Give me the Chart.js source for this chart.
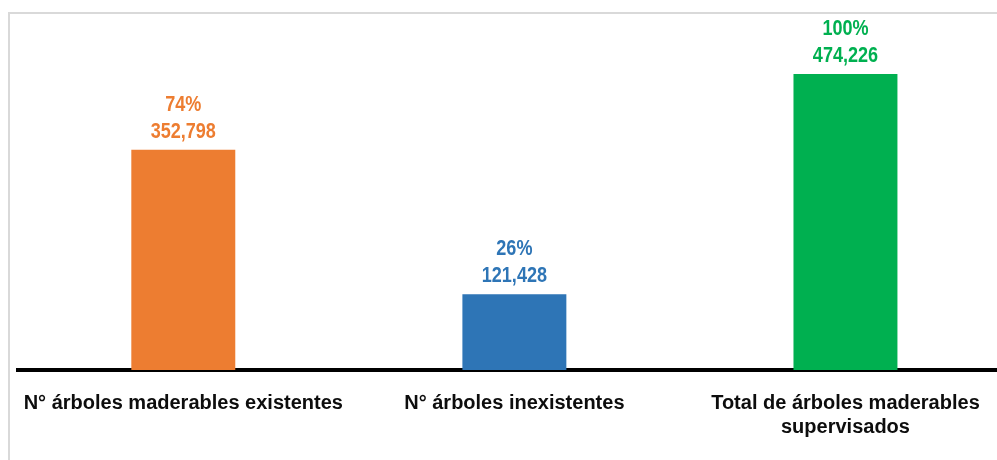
<!DOCTYPE html>
<html>
<head>
<meta charset="utf-8">
<script src="https://cdn.jsdelivr.net/npm/chart.js@4.4.0/dist/chart.umd.min.js"></script>
<style>
  html, body { margin: 0; padding: 0; background: #fff; overflow: hidden; }
  #frame { position: absolute; left: 8px; top: 12px; width: 1000px; height: 460px;
           border-left: 2px solid #d9d9d9; border-top: 2px solid #d9d9d9; }
  #wrap { position: absolute; left: 0; top: 0; width: 1011px; height: 460px; }
</style>
</head>
<body>
<div id="frame"></div>
<div id="wrap"><canvas id="chart"></canvas></div>
<script>
const categories = [
  'N° árboles maderables existentes',
  'N° árboles inexistentes',
  ['Total de árboles maderables', 'supervisados']
]
const values = [352798, 121428, 474226]
const percents = ['74%', '26%', '100%']
const colors = ['#ED7D31', '#2E75B6', '#00B050']

const FONT = "'Liberation Sans', Arial, sans-serif"

// draws pct and value above each bar, in the bar colour (squeezed a bit, like Arial Narrow)
const barLabels = {
  id: 'barLabels',
  afterDatasetsDraw(chart) {
    const ctx = chart.ctx
    const meta = chart.getDatasetMeta(0)
    const sx = 0.82
    ctx.save()
    ctx.font = 'bold 22px ' + FONT
    ctx.textAlign = 'center'
    ctx.textBaseline = 'alphabetic'
    meta.data.forEach((bar, i) => {
      const y = bar.y - 12
      ctx.save()
      ctx.translate(bar.x, 0)
      ctx.scale(sx, 1)
      ctx.fillStyle = colors[i]
      ctx.fillText(values[i].toLocaleString('en-US'), 0, y)
      ctx.fillText(percents[i], 0, y - 27)
      ctx.restore()
    })
    ctx.restore()
  }
}

new Chart(document.getElementById('chart'), {
  type: 'bar',
  data: {
    labels: categories,
    datasets: [{
      data: values,
      backgroundColor: colors,
      barPercentage: 0.314,
      categoryPercentage: 1
    }]
  },
  options: {
    responsive: true,
    maintainAspectRatio: false,
    animation: false,
    layout: { padding: { left: 16, right: 0, top: 0, bottom: 0 } },
    plugins: { legend: { display: false }, tooltip: { enabled: false } },
    scales: {
      x: {
        grid: { display: false, drawTicks: false },
        border: { display: true, color: '#000', width: 4 },
        ticks: {
          color: '#0d0d0d',
          font: { family: FONT, size: 20, weight: 'bold', lineHeight: 1.2 },
          padding: 21,
          maxRotation: 0,
          autoSkip: false
        },
        afterFit(s) { s.height = 90 }
      },
      y: { display: false, min: 0, max: 593000 }
    }
  },
  plugins: [barLabels]
})
</script>
</body>
</html>
